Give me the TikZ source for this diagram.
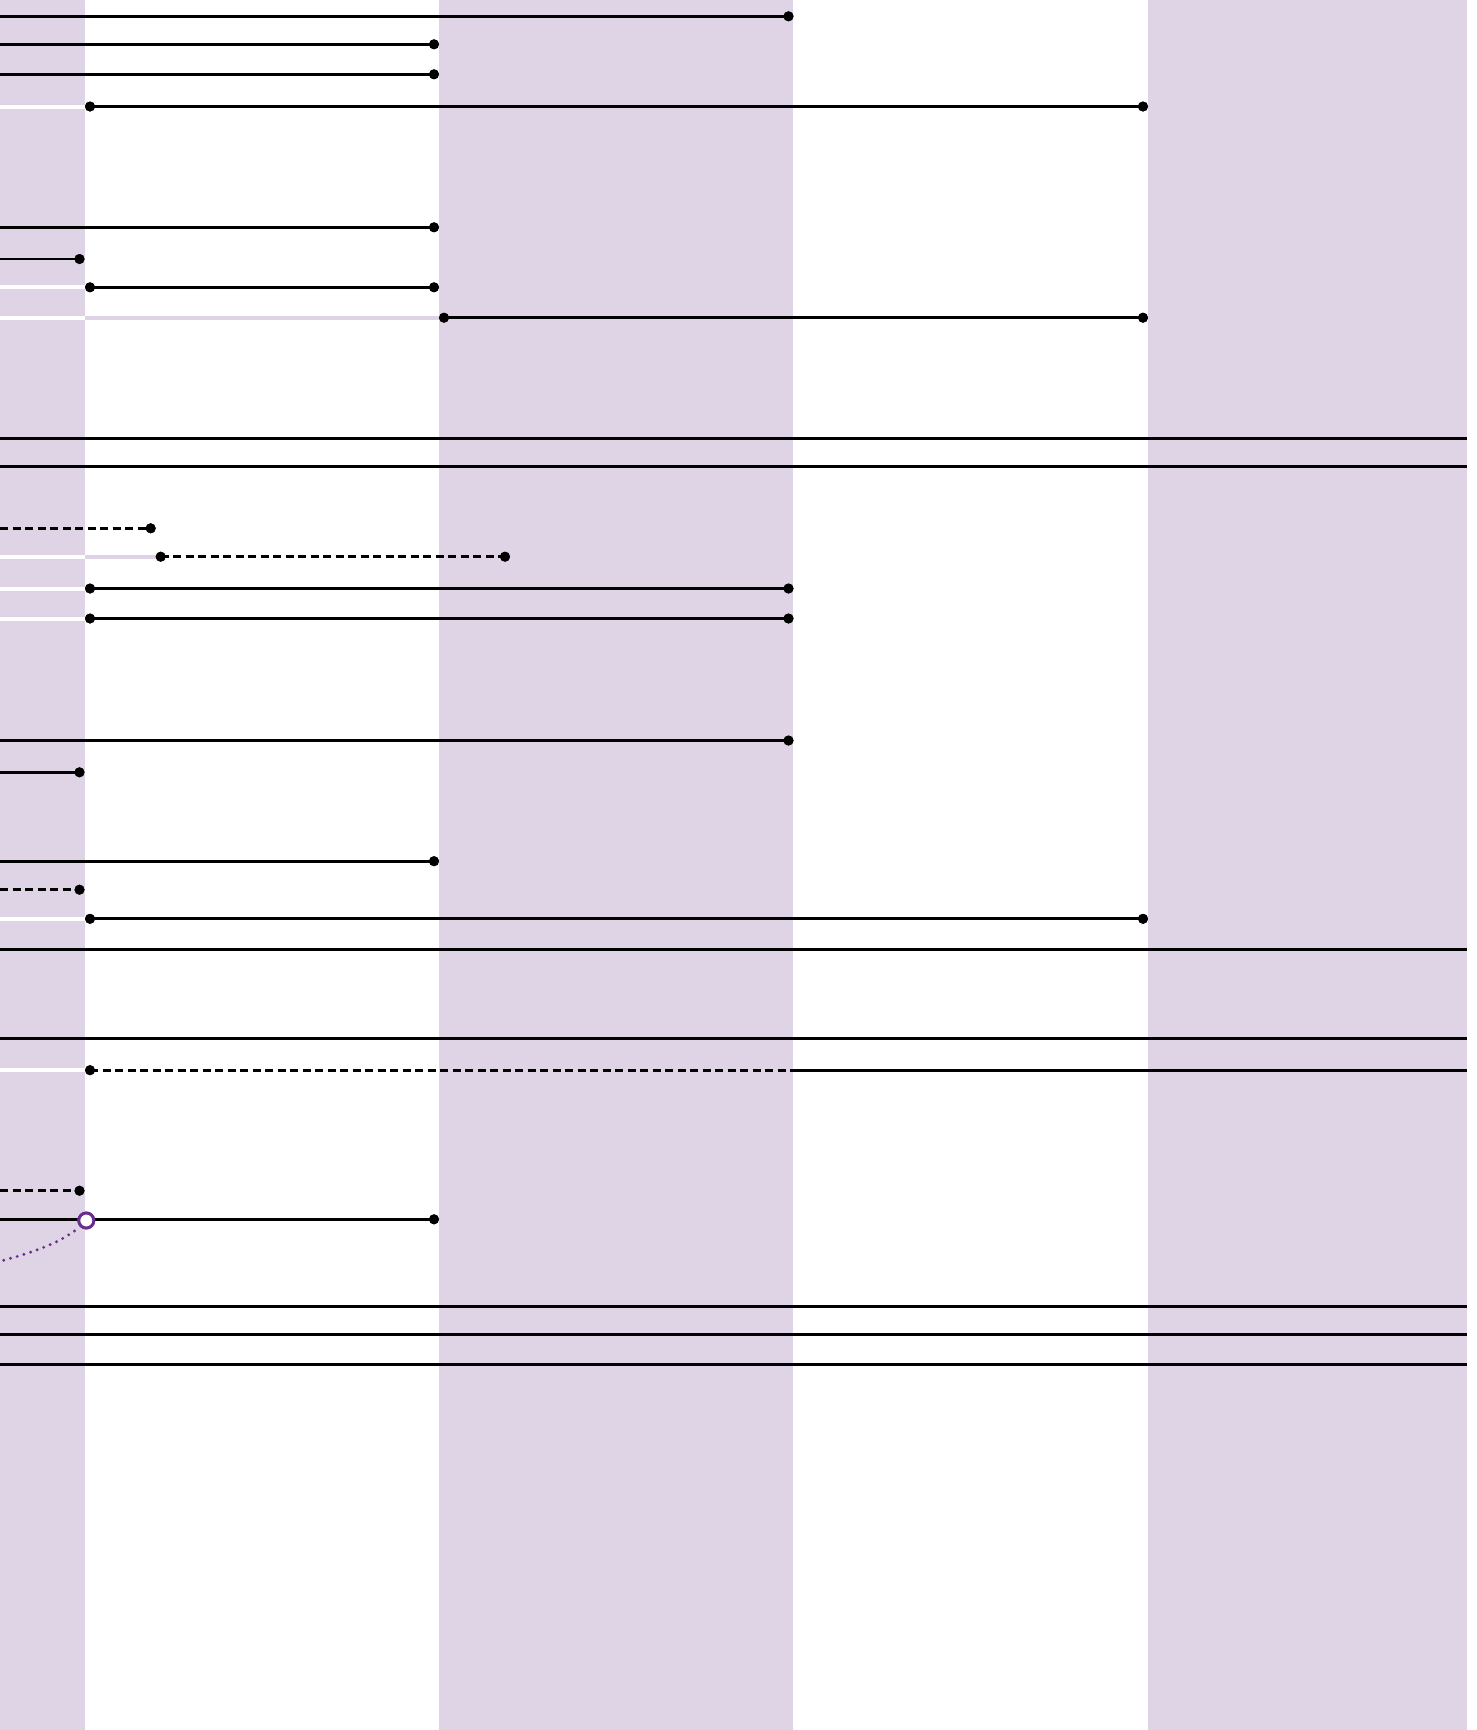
\documentclass[tikz,border=0pt]{standalone}
\usetikzlibrary{calc}
\definecolor{lav}{RGB}{223,211,230}
\definecolor{purp}{RGB}{106,45,140}
\begin{document}
\begin{tikzpicture}[x=1pt,y=-1pt,
  ln/.style={line width=2.7pt,black},
  dsh/.style={line width=2.7pt,black,dash pattern=on 8pt off 4.5pt},
  fullln/.style={line width=2.8pt,black},
  gapw/.style={line width=4pt,white},
  gapl/.style={line width=4pt,lav},
  band/.style={fill=lav},
  enddot/.style={circle,fill=black,inner sep=0pt,minimum size=10pt},
  opendot/.style={circle,draw=purp,line width=2.9pt,fill=white,inner sep=0pt,minimum size=15pt},
  purpdots/.style={purp,line width=3.2pt,line cap=round,dash pattern=on 0pt off 7pt}]
\useasboundingbox (0,0) rectangle (1477,1730);
\fill[white] (0,0) rectangle (1477,1730);
% bands
\fill[band] (0,0) rectangle (85,1730);
\fill[band] (439,0) rectangle (793,1730);
\fill[band] (1148,0) rectangle (1467,1730);

% gap strips
\draw[gapw] (0,106.5) -- (85,106.5);
\draw[gapw] (0,287.3) -- (85,287.3);
\draw[gapw] (0,317.7) -- (85,317.7);
\draw[gapl] (85,317.7) -- (439,317.7);
\draw[gapw] (0,556.7) -- (85,556.7);
\draw[gapl] (85,556.7) -- (158,556.7);
\draw[gapw] (0,588.5) -- (85,588.5);
\draw[gapw] (0,618.5) -- (85,618.5);
\draw[gapw] (0,918.8) -- (85,918.8);
\draw[gapw] (0,1070.2) -- (85,1070.2);

% coordinates (left edge) and dot nodes
\coordinate (l1) at (0,16.3);   \node[enddot] (e1) at (788.5,16.3) {};
\coordinate (l2) at (0,44.3);   \node[enddot] (e2) at (434,44.3) {};
\coordinate (l3) at (0,74.3);   \node[enddot] (e3) at (434,74.3) {};
\node[enddot] (s4) at (90,106.5) {};   \node[enddot] (e4) at (1143,106.5) {};
\coordinate (l5) at (0,227.3);  \node[enddot] (e5) at (434,227.3) {};
\coordinate (l6) at (0,259);    \node[enddot] (e6) at (79.5,259) {};
\node[enddot] (s7) at (90,287.3) {};   \node[enddot] (e7) at (434,287.3) {};
\node[enddot] (s8) at (444,317.7) {};  \node[enddot] (e8) at (1143,317.7) {};
\coordinate (l9) at (0,438.3);  \coordinate (r9) at (1467,438.3);
\coordinate (l10) at (0,466.2); \coordinate (r10) at (1467,466.2);
\coordinate (l11) at (0,528.3); \node[enddot] (e11) at (150.7,528.3) {};
\node[enddot] (s12) at (160.7,556.7) {}; \node[enddot] (e12) at (505,556.7) {};
\node[enddot] (s13) at (90,588.5) {};  \node[enddot] (e13) at (788.5,588.5) {};
\node[enddot] (s14) at (90,618.5) {};  \node[enddot] (e14) at (788.5,618.5) {};
\coordinate (l15) at (0,740.5); \node[enddot] (e15) at (788.5,740.5) {};
\coordinate (l16) at (0,772.3); \node[enddot] (e16) at (79.5,772.3) {};
\coordinate (l17) at (0,861.2); \node[enddot] (e17) at (434,861.2) {};
\coordinate (l18) at (0,889.7); \node[enddot] (e18) at (79.5,889.7) {};
\node[enddot] (s19) at (90,918.8) {};  \node[enddot] (e19) at (1143,918.8) {};
\coordinate (l20) at (0,949.3); \coordinate (r20) at (1467,949.3);
\coordinate (l21) at (0,1038.3); \coordinate (r21) at (1467,1038.3);
\node[enddot] (s22) at (90,1070.2) {}; \coordinate (m22) at (793,1070.2); \coordinate (r22) at (1467,1070.2);
\coordinate (l23) at (0,1190.7); \node[enddot] (e23) at (79.5,1190.7) {};
\coordinate (l24) at (0,1219.3); \node[enddot] (e24) at (434,1219.3) {};
\coordinate (l25) at (0,1306.2); \coordinate (r25) at (1467,1306.2);
\coordinate (l26) at (0,1334.2); \coordinate (r26) at (1467,1334.2);
\coordinate (l27) at (0,1364.3); \coordinate (r27) at (1467,1364.3);

% connectors
\draw[ln] (l1) -- (e1.center);
\draw[ln] (l2) -- (e2.center);
\draw[ln] (l3) -- (e3.center);
\draw[ln] (s4.center) -- (e4.center);
\draw[ln] (l5) -- (e5.center);
\draw[ln] (l6) -- (e6.center);
\draw[ln] (s7.center) -- (e7.center);
\draw[ln] (s8.center) -- (e8.center);
\draw[fullln] (l9) -- (r9);
\draw[fullln] (l10) -- (r10);
\draw[dsh] (l11) -- (e11.center);
\draw[dsh] (s12.center) -- (e12.center);
\draw[ln] (s13.center) -- (e13.center);
\draw[ln] (s14.center) -- (e14.center);
\draw[ln] (l15) -- (e15.center);
\draw[ln] (l16) -- (e16.center);
\draw[ln] (l17) -- (e17.center);
\draw[dsh] (l18) -- (e18.center);
\draw[ln] (s19.center) -- (e19.center);
\draw[fullln] (l20) -- (r20);
\draw[fullln] (l21) -- (r21);
\draw[dsh] (s22.center) -- (m22);
\draw[fullln] (m22) -- (r22);
\draw[dsh] (l23) -- (e23.center);
\draw[ln] (l24) -- (e24.center);
\draw[fullln] (l25) -- (r25);
\draw[fullln] (l26) -- (r26);
\draw[fullln] (l27) -- (r27);

% redraw dots on top
\foreach \n in {e1,e2,e3,s4,e4,e5,e6,s7,e7,s8,e8,e11,s12,e12,s13,e13,s14,e14,e15,e16,e17,e18,s19,e19,s22,e23,e24}
  \fill (\n.center) circle[radius=5pt];

% purple dotted link and open circle
\node[opendot] (oc) at (86.3,1220.5) {};
\coordinate (pc0) at (-3,1262);
\draw[purpdots] (pc0) .. controls (35,1252) and (60,1243) .. (oc.south west);
\node[opendot] at (oc.center) {};
\end{tikzpicture}
\end{document}
